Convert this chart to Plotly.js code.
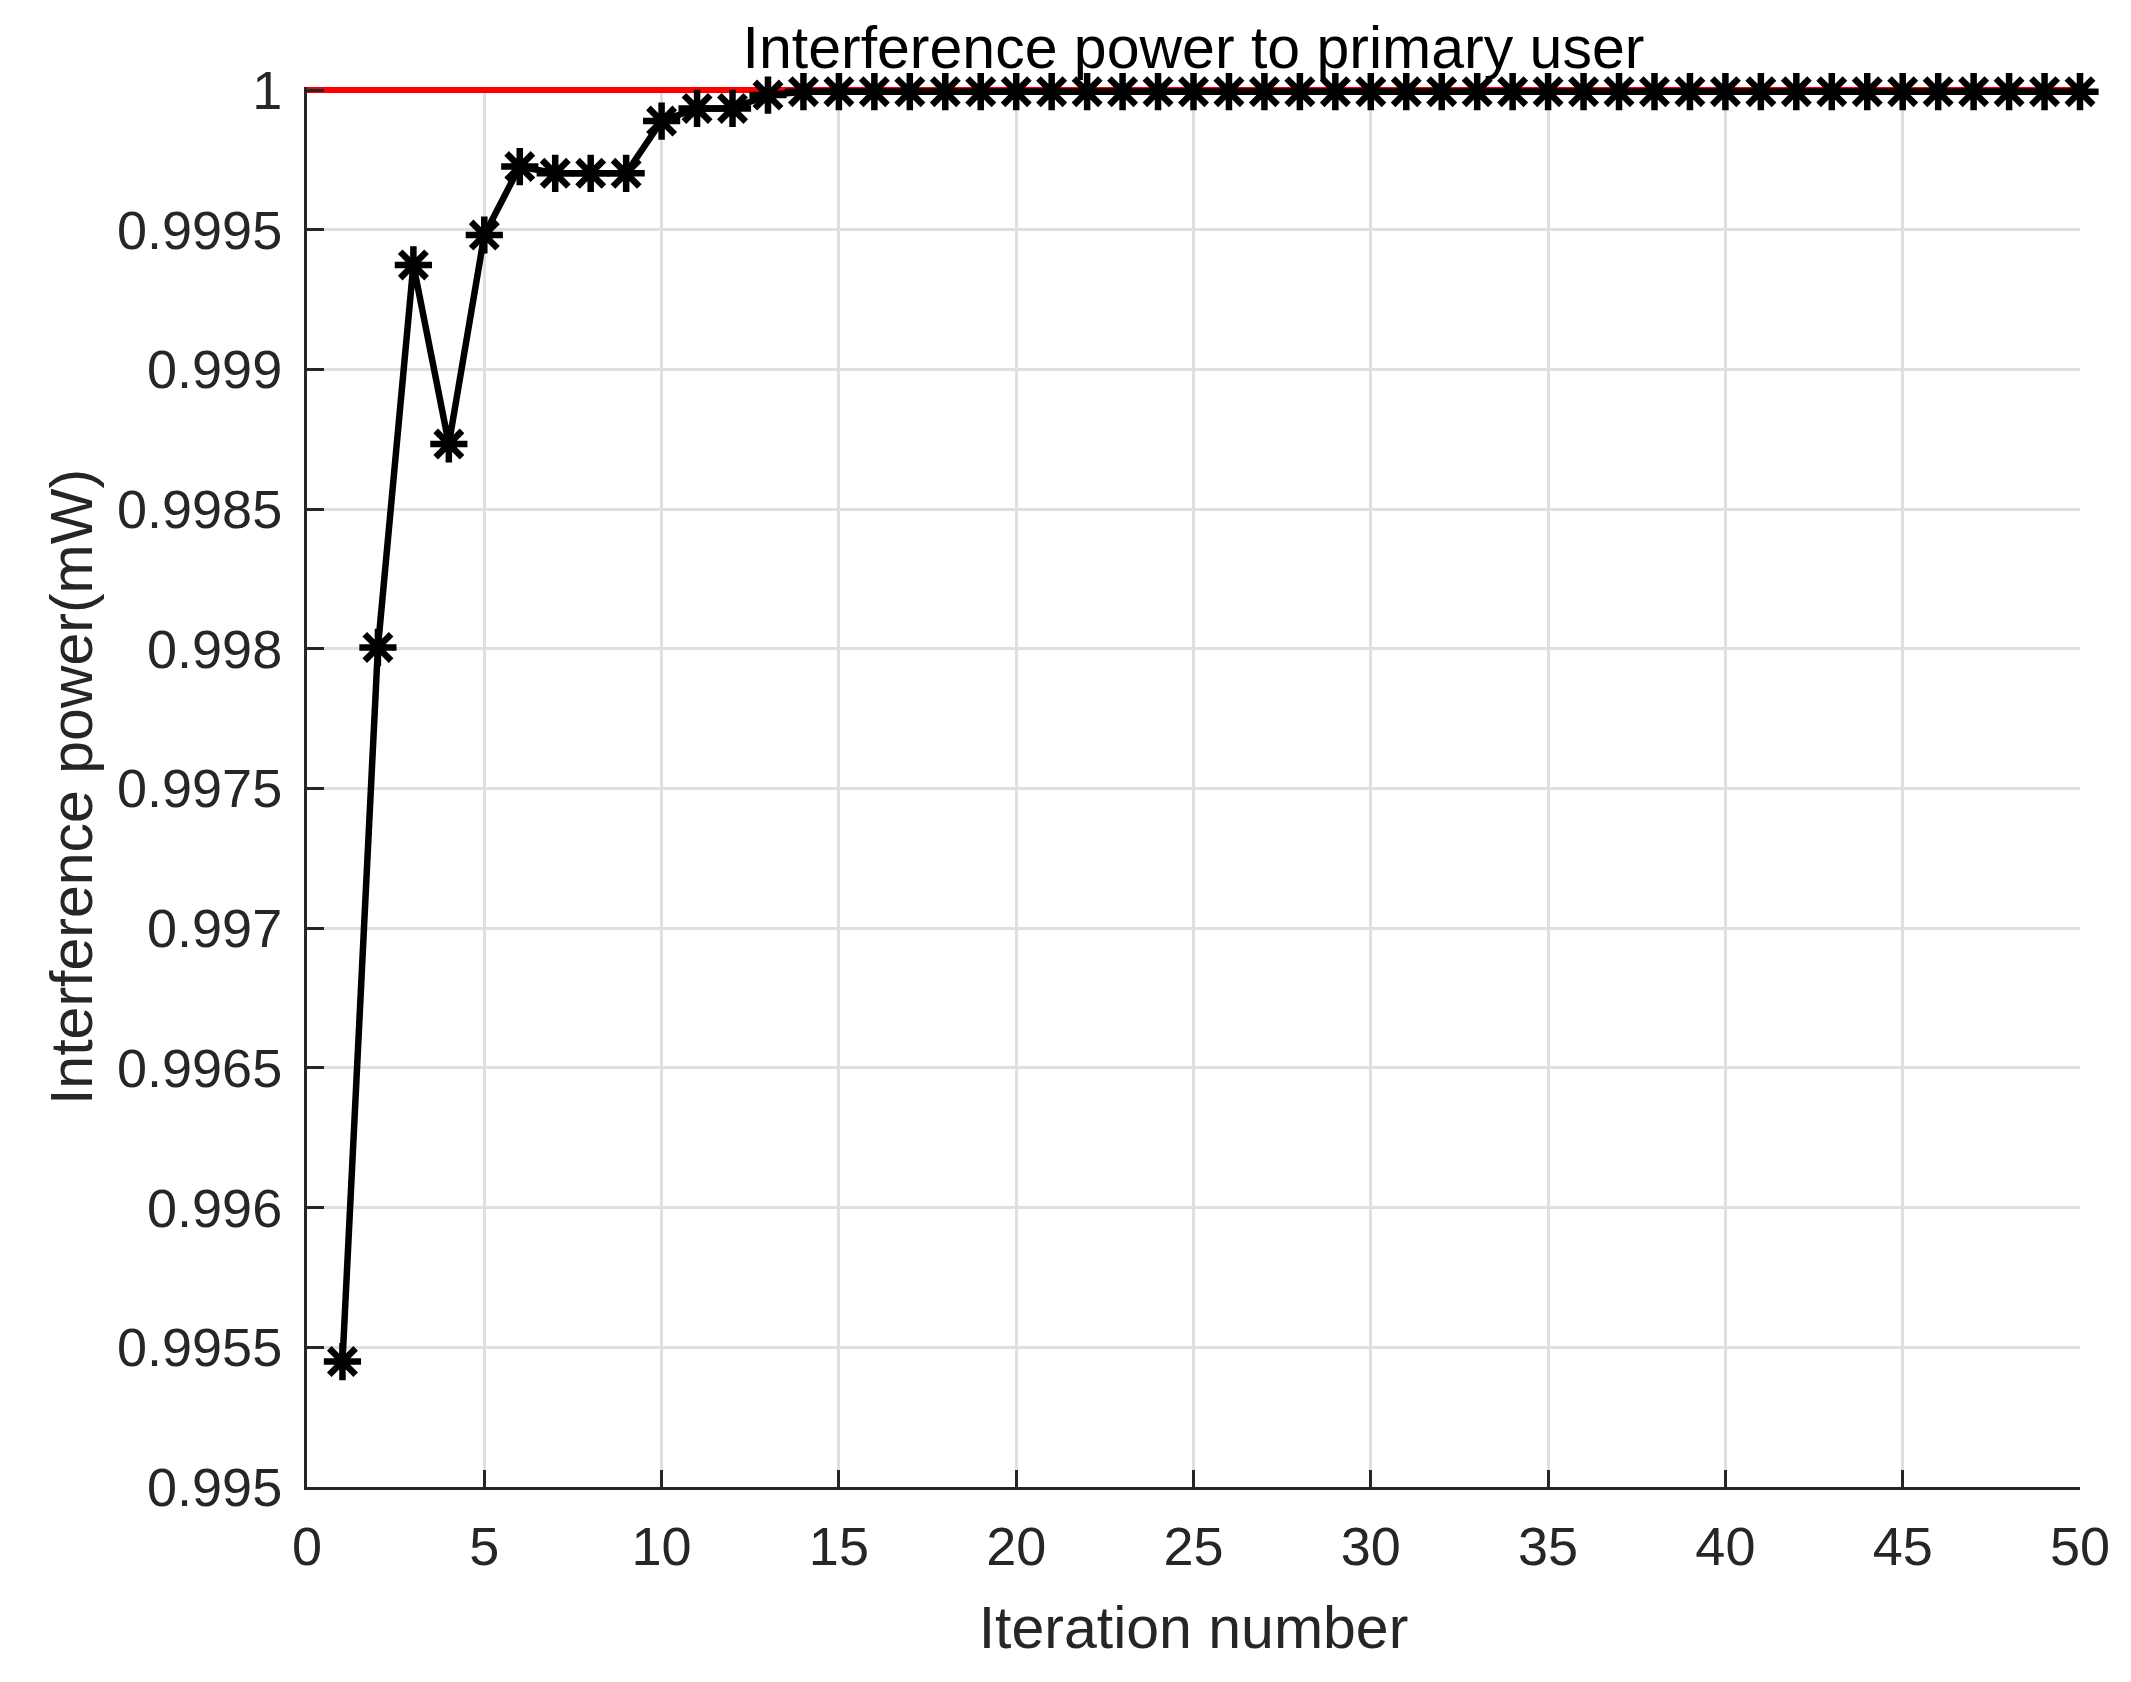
<!DOCTYPE html>
<html>
<head>
<meta charset="utf-8">
<script src="https://cdn.plot.ly/plotly-3.0.1.min.js"></script>
<style>html,body{margin:0;padding:0;background:#fff;}#chart{width:2131px;height:1682px;}</style>
</head>
<body>
<div id="chart"></div>
<script>
const iterations = Array.from({length: 50}, (_, i) => i + 1);
const interferencePower = [
  0.995449, 0.998005, 0.999374, 0.998733, 0.999481,
  0.999726, 0.999702, 0.999702, 0.999702, 0.999889,
  0.999934, 0.999934, 0.999982, 0.999994, 0.999994,
  0.999994, 0.999994, 0.999994, 0.999994, 0.999994,
  0.999994, 0.999994, 0.999994, 0.999994, 0.999994,
  0.999994, 0.999994, 0.999994, 0.999994, 0.999994,
  0.999994, 0.999994, 0.999994, 0.999994, 0.999994,
  0.999994, 0.999994, 0.999994, 0.999994, 0.999994,
  0.999994, 0.999994, 0.999994, 0.999994, 0.999994,
  0.999994, 0.999994, 0.999994, 0.999994, 0.999994
];
const thresholdX = [0, 50];
const thresholdY = [1, 1];
const xTicks = [0, 5, 10, 15, 20, 25, 30, 35, 40, 45, 50];
const yTicks = [0.995, 0.9955, 0.996, 0.9965, 0.997, 0.9975, 0.998, 0.9985, 0.999, 0.9995, 1];
const yTickText = ['0.995', '0.9955', '0.996', '0.9965', '0.997', '0.9975', '0.998', '0.9985', '0.999', '0.9995', '1'];

const FONT = 'Liberation Sans, Arial, Helvetica, sans-serif';
const AX = '#262626';

const traces = [
  {
    x: thresholdX, y: thresholdY, type: 'scatter', mode: 'lines',
    line: {color: '#ff0000', width: 6}, showlegend: false, hoverinfo: 'skip'
  },
  {
    x: iterations, y: interferencePower, type: 'scatter', mode: 'lines+markers',
    line: {color: '#000000', width: 6.5},
    marker: {symbol: 'asterisk-open', size: 31, color: '#000000', line: {color: '#000000', width: 6.5}},
    cliponaxis: false, showlegend: false
  }
];

const layout = {
  width: 2131, height: 1682,
  paper_bgcolor: '#ffffff', plot_bgcolor: '#ffffff',
  margin: {l: 307, r: 51, t: 87, b: 195, pad: 0},
  font: {family: FONT, size: 54, color: AX},
  showlegend: false,
  title: {
    text: 'Interference power to primary user',
    font: {family: FONT, size: 59, color: '#000000'},
    x: 0.5, xref: 'paper', xanchor: 'center',
    y: 1 - 47 / 1682, yref: 'container', yanchor: 'middle'
  },
  xaxis: {
    range: [0, 50], tickmode: 'array', tickvals: xTicks, ticktext: xTicks.map(String),
    ticks: 'inside', ticklen: 17, tickwidth: 3, tickcolor: AX,
    showline: true, linecolor: AX, linewidth: 3, mirror: false,
    showgrid: true, gridcolor: '#dfdfdf', gridwidth: 3, zeroline: false,
    tickfont: {family: FONT, size: 54, color: AX},
    ticklabelstandoff: 10,
    title: {text: 'Iteration number', font: {family: FONT, size: 59, color: AX}, standoff: 32}
  },
  yaxis: {
    range: [0.995, 1.0000108], tickmode: 'array', tickvals: yTicks, ticktext: yTickText,
    ticks: 'inside', ticklen: 17, tickwidth: 3, tickcolor: AX,
    showline: true, linecolor: AX, linewidth: 3, mirror: false,
    showgrid: true, gridcolor: '#dfdfdf', gridwidth: 3, zeroline: false,
    tickfont: {family: FONT, size: 54, color: AX},
    ticklabelstandoff: 11,
    title: {text: 'Interference power(mW)', font: {family: FONT, size: 59, color: AX}, standoff: 6}
  }
};

Plotly.newPlot('chart', traces, layout, {displayModeBar: false, staticPlot: true});
</script>
</body>
</html>
